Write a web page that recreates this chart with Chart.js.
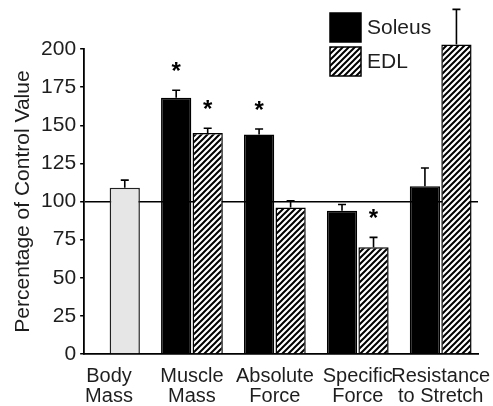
<!DOCTYPE html>
<html>
<head>
<meta charset="utf-8">
<script src="https://cdn.jsdelivr.net/npm/chart.js@4.4.1/dist/chart.umd.min.js"></script>
<style>
    html, body { margin: 0; padding: 0; background: #fff; }
    #wrap { width: 493px; height: 406px; position: relative; }
</style>
</head>
<body>
<div id="wrap"><canvas id="grafico"></canvas></div>
<script>
// DADOS DO GRÁFICO
const categorias = [["Body", "Mass"], ["Muscle", "Mass"], ["Absolute", "Force"], ["Specific", "Force"], ["Resistance", "to Stretch"]];
const corpo = [109, null, null, null, null];
const corpoErro = [5, null, null, null, null];
const soleus = [null, 168, 144, 94, 110];
const soleusErro = [null, 5, 3.5, 4, 12];
const soleusSig = [false, true, true, false, false];
const edl = [null, 145, 96, 70, 203];
const edlErro = [null, 3, 4.5, 6.5, 23];
const edlSig = [false, true, false, true, false];
const ticksY = [0, 25, 50, 75, 100, 125, 150, 175, 200];

const FONTE = "'Liberation Sans', Arial, sans-serif";
const TEXTO = "#1e1e1e";

// Converte lista em pontos {x: índice da categoria, y: valor}
const pontos = (lista) => lista.map((v, i) => ({ x: i, y: v }));

// PADRÃO HACHURADO (EDL)
function criarHachura() {
    const t = document.createElement("canvas");
    t.width = 6;
    t.height = 6;
    const c = t.getContext("2d");
    c.fillStyle = "#fff";
    c.fillRect(0, 0, 6, 6);
    c.strokeStyle = "#000";
    c.lineWidth = 2;
    c.beginPath();
    c.moveTo(-1, 7); c.lineTo(7, -1);
    c.moveTo(-4, 4); c.lineTo(4, -4);
    c.moveTo(2, 10); c.lineTo(10, 2);
    c.stroke();
    return c.createPattern(t, "repeat");
}
const hachura = criarHachura();

// BARRAS DE ERRO E ASTERISCOS
const errosPlugin = {
    id: "erros",
    afterDatasetsDraw(chart) {
        const ctx = chart.ctx;
        const y = chart.scales.y;
        chart.data.datasets.forEach((ds, i) => {
            const meta = chart.getDatasetMeta(i);
            meta.data.forEach((bar, j) => {
                const v = ds.data[j].y;
                if (v === null) return;
                const topo = y.getPixelForValue(v + ds.erro[j]);
                ctx.save();
                ctx.strokeStyle = "#000";
                ctx.lineWidth = 1.6;
                ctx.beginPath();
                ctx.moveTo(bar.x, bar.y);
                ctx.lineTo(bar.x, topo);
                ctx.moveTo(bar.x - 4, topo);
                ctx.lineTo(bar.x + 4, topo);
                ctx.stroke();
                if (ds.sig && ds.sig[j]) {
                    ctx.fillStyle = "#000";
                    ctx.font = "bold 24px " + FONTE;
                    ctx.textAlign = "center";
                    ctx.textBaseline = "top";
                    ctx.fillText("*", bar.x, topo - 30);
                }
                ctx.restore();
            });
        });
    }
};

// LEGENDA VERTICAL
const legendaPlugin = {
    id: "legenda",
    afterDraw(chart) {
        const ctx = chart.ctx;
        const itens = [chart.data.datasets[0], chart.data.datasets[1]];
        itens.forEach((ds, k) => {
            const bx = 330, by = 13 + k * 34;
            ctx.save();
            ctx.fillStyle = ds.backgroundColor;
            ctx.fillRect(bx, by, 31, 29);
            ctx.strokeStyle = "#000";
            ctx.lineWidth = 1.5;
            ctx.strokeRect(bx, by, 31, 29);
            ctx.fillStyle = TEXTO;
            ctx.font = "21px " + FONTE;
            ctx.textBaseline = "middle";
            ctx.fillText(ds.label, bx + 37, by + 15);
            ctx.restore();
        });
    }
};

new Chart(document.getElementById("grafico"), {
    type: "bar",
    data: {
        datasets: [
            {
                label: "Soleus",
                data: pontos(soleus),
                erro: soleusErro,
                sig: soleusSig,
                stack: "a",
                backgroundColor: "#000",
                borderColor: "#000",
                borderWidth: 1.5,
                clip: false,
            },
            {
                label: "EDL",
                data: pontos(edl),
                erro: edlErro,
                sig: edlSig,
                stack: "b",
                backgroundColor: hachura,
                borderColor: "#000",
                borderWidth: 1.5,
                clip: false,
            },
            // Body Mass ocupa a posição do EDL no grupo
            {
                label: "Body",
                data: pontos(corpo),
                erro: corpoErro,
                stack: "b",
                backgroundColor: "#e6e6e6",
                borderColor: "#222",
                borderWidth: 1.5,
            },
        ],
    },
    options: {
        responsive: true,
        maintainAspectRatio: false,
        animation: false,
        categoryPercentage: 0.76,
        barPercentage: 0.96,
        layout: { padding: { top: 49, right: 15, left: 12, bottom: 0 } },
        plugins: {
            legend: { display: false },
            tooltip: { enabled: false },
        },
        scales: {
            x: {
                type: "linear",
                offset: false,
                min: -0.3,
                max: 4.45,
                afterBuildTicks: (escala) => {
                    escala.ticks = categorias.map((_, i) => ({ value: i }));
                },
                afterFit: (escala) => {
                    escala.height = 52;
                    escala.paddingLeft = 0;
                    escala.paddingRight = 0;
                },
                grid: { display: false, drawTicks: false },
                border: { color: "#000", width: 1.8 },
                ticks: {
                    color: TEXTO,
                    font: { family: FONTE, size: 20, lineHeight: 1.0 },
                    padding: 12,
                    maxRotation: 0,
                    autoSkip: false,
                    callback: (v) => categorias[v],
                },
            },
            y: {
                stacked: true,
                min: 0,
                max: 200,
                afterBuildTicks: (escala) => {
                    escala.ticks = ticksY.map((v) => ({ value: v }));
                },
                grid: {
                    color: (c) => (c.tick && c.tick.value === 100 ? "#000" : "transparent"),
                    lineWidth: 1.5,
                    tickColor: "#000",
                    tickLength: 4,
                    drawOnChartArea: true,
                },
                border: { color: "#000", width: 1.8 },
                ticks: {
                    color: TEXTO,
                    font: { family: FONTE, size: 21 },
                    padding: 4,
                },
                title: {
                    display: true,
                    text: "Percentage of Control Value",
                    color: TEXTO,
                    font: { family: FONTE, size: 21, lineHeight: 1.1 },
                    padding: { top: 0, bottom: 2 },
                },
            },
        },
    },
    plugins: [errosPlugin, legendaPlugin],
});
</script>
</body>
</html>
